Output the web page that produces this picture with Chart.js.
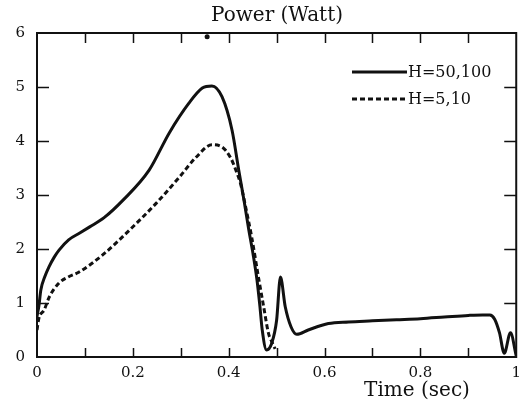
<!DOCTYPE html>
<html>
<head>
<meta charset="utf-8">
<script src="https://cdn.jsdelivr.net/npm/chart.js@4/dist/chart.umd.min.js"></script>
<style>
  html, body { margin: 0; padding: 0; background: #fff; }
  canvas { display: block; }
</style>
</head>
<body>
<canvas id="power-chart" width="528" height="405"></canvas>
<script>
// Power curves (time in sec, power in Watt)
const solidTime = [0, 0.004, 0.008, 0.016, 0.025, 0.036, 0.046, 0.066, 0.09, 0.11, 0.14, 0.179, 0.234, 0.276, 0.317, 0.345, 0.365, 0.386, 0.407, 0.421, 0.432, 0.442, 0.451, 0.459, 0.465, 0.47, 0.479, 0.49, 0.5, 0.508, 0.518, 0.53, 0.542, 0.566, 0.608, 0.65, 0.7, 0.75, 0.8, 0.85, 0.9, 0.93, 0.945, 0.955, 0.965, 0.975, 0.988, 1.0]
const solidPower = [0.75, 0.95, 1.24, 1.48, 1.67, 1.85, 1.98, 2.17, 2.3, 2.41, 2.58, 2.9, 3.46, 4.15, 4.7, 4.98, 5.02, 4.82, 4.2, 3.46, 2.9, 2.35, 1.9, 1.43, 0.95, 0.5, 0.13, 0.26, 0.68, 1.48, 0.93, 0.56, 0.42, 0.5, 0.62, 0.65, 0.67, 0.69, 0.71, 0.74, 0.77, 0.78, 0.78, 0.7, 0.45, 0.07, 0.45, 0.02]

const dottedTime = [0, 0.004, 0.015, 0.025, 0.046, 0.065, 0.087, 0.137, 0.193, 0.249, 0.297, 0.332, 0.365, 0.386, 0.404, 0.415, 0.425, 0.436, 0.448, 0.463, 0.473, 0.483, 0.49, 0.497]
const dottedPower = [0.5, 0.72, 0.87, 1.1, 1.37, 1.48, 1.57, 1.89, 2.35, 2.85, 3.33, 3.7, 3.93, 3.89, 3.69, 3.46, 3.2, 2.75, 2.22, 1.43, 0.93, 0.44, 0.28, 0.15]

// stray dot printed near the top edge
const speckTime = [0.355]
const speckPower = [5.93]

const seriesNames = ["H=50,100", "H=5,10"]
const xMajor = [0, 0.2, 0.4, 0.6, 0.8, 1]
const xMinor = [0.1, 0.2, 0.3, 0.4, 0.5, 0.6, 0.7, 0.8, 0.9]
const yTicks = [0, 1, 2, 3, 4, 5, 6]

const serif = "'DejaVu Serif', serif"
const ink = "#111"

function toPoints(xs, ys) {
  return xs.map((x, i) => ({ x: x, y: ys[i] }))
}

// Frame, inward ticks, legend and titles
const decorations = {
  id: "decorations",
  afterDraw(chart) {
    const ctx = chart.ctx
    const area = chart.chartArea
    const xs = chart.scales.x
    const ys = chart.scales.y

    ctx.save()
    ctx.strokeStyle = ink
    ctx.lineWidth = 2
    ctx.strokeRect(area.left, area.top, area.right - area.left, area.bottom - area.top)

    // x ticks, bottom and top
    ctx.lineWidth = 1.5
    ctx.beginPath()
    xMinor.forEach((v) => {
      const px = Math.round(xs.getPixelForValue(v)) + 0.5
      ctx.moveTo(px, area.bottom)
      ctx.lineTo(px, area.bottom - 9)
      ctx.moveTo(px, area.top)
      ctx.lineTo(px, area.top + 10)
    })
    // y ticks, left and right
    yTicks.slice(1, -1).forEach((v) => {
      const py = Math.round(ys.getPixelForValue(v)) + 0.5
      ctx.moveTo(area.left, py)
      ctx.lineTo(area.left + 12, py)
      ctx.moveTo(area.right, py)
      ctx.lineTo(area.right - 12, py)
    })
    ctx.stroke()

    // legend
    ctx.lineWidth = 3
    ctx.beginPath()
    ctx.moveTo(352, 72)
    ctx.lineTo(407, 72)
    ctx.stroke()
    ctx.setLineDash([5, 3])
    ctx.beginPath()
    ctx.moveTo(352, 99)
    ctx.lineTo(405, 99)
    ctx.stroke()
    ctx.setLineDash([])

    ctx.fillStyle = ink
    ctx.textBaseline = "middle"
    ctx.textAlign = "left"
    ctx.font = "16px " + serif
    ctx.fillText(seriesNames[0], 408, 73)
    ctx.fillText(seriesNames[1], 408, 100)

    // titles
    ctx.textAlign = "center"
    ctx.font = "20px " + serif
    ctx.fillText("Power (Watt)", 277, 16)
    ctx.fillText("Time (sec)", 417, 391)
    ctx.restore()
  },
}

new Chart(document.getElementById("power-chart"), {
  type: "scatter",
  data: {
    datasets: [
      {
        label: seriesNames[0],
        data: toPoints(solidTime, solidPower),
        showLine: true,
        borderColor: ink,
        borderWidth: 3,
        pointRadius: 0,
        cubicInterpolationMode: "monotone",
      },
      {
        label: seriesNames[1],
        data: toPoints(dottedTime, dottedPower),
        showLine: true,
        borderColor: ink,
        borderWidth: 3,
        borderDash: [5, 3],
        pointRadius: 0,
        cubicInterpolationMode: "monotone",
      },
      {
        label: "speck",
        data: toPoints(speckTime, speckPower),
        showLine: false,
        pointRadius: 2.5,
        pointBackgroundColor: ink,
        pointBorderWidth: 0,
      },
    ],
  },
  options: {
    responsive: false,
    animation: false,
    layout: { padding: { top: 33, right: 9, left: 0, bottom: 0 } },
    plugins: {
      legend: { display: false },
      tooltip: { enabled: false },
    },
    scales: {
      x: {
        type: "linear",
        min: 0,
        max: 1,
        afterBuildTicks: (scale) => {
          scale.ticks = xMajor.map((v) => ({ value: v }))
        },
        afterFit: (scale) => {
          scale.height = 48
        },
        ticks: {
          color: ink,
          font: { family: serif, size: 15 },
          padding: 7,
          maxRotation: 0,
          callback: (v) => String(v),
        },
        grid: { display: false, drawTicks: false },
        border: { display: false },
      },
      y: {
        min: 0,
        max: 6,
        afterBuildTicks: (scale) => {
          scale.ticks = yTicks.map((v) => ({ value: v }))
        },
        afterFit: (scale) => {
          scale.width = 37
        },
        ticks: {
          color: ink,
          font: { family: serif, size: 15 },
          padding: 12,
        },
        grid: { display: false, drawTicks: false },
        border: { display: false },
      },
    },
  },
  plugins: [decorations],
})
</script>
</body>
</html>
